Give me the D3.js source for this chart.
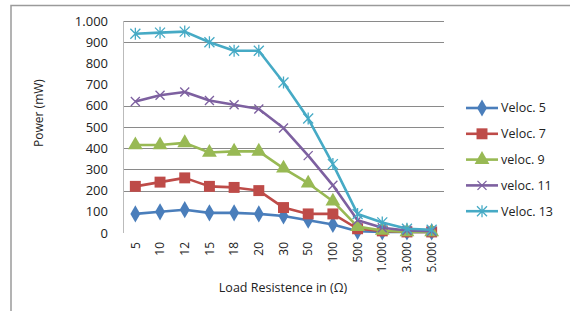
<!DOCTYPE html>
<html>
<head>
<meta charset="utf-8">
<script src="https://cdn.jsdelivr.net/npm/d3@7"></script>
<style>
  html, body { margin: 0; padding: 0; background: #fff; }
  svg { display: block; }
  text { font-family: "Open Sans", "Liberation Sans", Arial, sans-serif; fill: #222; }
</style>
</head>
<body>
<svg id="chart" width="570" height="311"></svg>
<script>
// categories (load resistance, Ω)
const loads = ["5", "10", "12", "15", "18", "20", "30", "50", "100", "500", "1.000", "3.000", "5.000"];

// power in mW
const veloc5  = [90, 100, 110, 95, 95, 90, 80, 60, 40, 8, 5, 5, 5];
const veloc7  = [220, 240, 260, 220, 215, 200, 120, 90, 90, 20, 10, 5, 5];
const veloc9  = [415, 415, 425, 380, 385, 385, 305, 235, 150, 30, 12, 5, 5];
const veloc11 = [620, 650, 665, 625, 605, 585, 495, 365, 225, 60, 25, 12, 8];
const veloc13 = [940, 945, 950, 900, 860, 860, 710, 540, 325, 90, 50, 20, 15];

const seriesNames = ["Veloc. 5", "Veloc. 7", "veloc. 9", "veloc. 11", "Veloc. 13"];
const yTicks = [0, 100, 200, 300, 400, 500, 600, 700, 800, 900, 1000];
// only these gridlines show in the picture
const gridValues = [200, 300, 400, 500, 600, 900, 1000];

const series = [
  { name: seriesNames[0], values: veloc5,  color: "#4A7EBB", symbol: d3.symbolDiamond, size: 85 },
  { name: seriesNames[1], values: veloc7,  color: "#BE4B48", symbol: d3.symbolSquare,  size: 120 },
  { name: seriesNames[2], values: veloc9,  color: "#98B954", symbol: d3.symbolTriangle, size: 95 },
  { name: seriesNames[3], values: veloc11, color: "#7D60A0", symbol: "x",    size: 4.5 },
  { name: seriesNames[4], values: veloc13, color: "#46AAC5", symbol: "star", size: 5 }
];

const svg = d3.select("#chart");

// outer chart border (only top and left edges fall inside the picture)
svg.append("rect").attr("x", 11).attr("y", 5.5).attr("width", 620).attr("height", 340)
  .attr("fill", "none").attr("stroke", "#9a9a9a").attr("stroke-width", 1.5);

const L = 123, R = 444, T = 21, B = 233;
const x = d3.scalePoint().domain(loads).range([L, R]).padding(0.5);
const y = d3.scaleLinear().domain([0, 1000]).range([B, T]);

// gridlines
svg.append("g").selectAll("line").data(gridValues).join("line")
  .attr("x1", L).attr("x2", R)
  .attr("y1", d => Math.round(y(d)) + 0.5).attr("y2", d => Math.round(y(d)) + 0.5)
  .attr("stroke", "#8a8a8a").attr("stroke-width", 1);

// y axis line
svg.append("line").attr("x1", L + 0.5).attr("x2", L + 0.5).attr("y1", T).attr("y2", B)
  .attr("stroke", "#bbb");

// y tick labels
svg.append("g").selectAll("text").data(yTicks).join("text")
  .attr("x", 108).attr("y", d => y(d)).attr("dy", "0.35em")
  .attr("text-anchor", "end").attr("font-size", 13)
  .text(d => d3.format(",")(d).replace(",", "."));

// x tick labels, rotated
svg.append("g").selectAll("text").data(loads).join("text")
  .attr("transform", d => `translate(${x(d)},242) rotate(-90)`)
  .attr("dy", "0.35em").attr("text-anchor", "end").attr("font-size", 12)
  .text(d => d);

// axis titles
svg.append("text").attr("transform", "translate(39,113) rotate(-90)")
  .attr("text-anchor", "middle").attr("dy", "0.35em").attr("font-size", 12).text("Power (mW)");
svg.append("text").attr("x", 283).attr("y", 288).attr("dy", "0.35em")
  .attr("text-anchor", "middle").attr("font-size", 12.5).text("Load Resistence in (Ω)");

function drawMarker(g, s, cx, cy) {
  const r = s.size;
  if (s.symbol === "x") {
    g.append("path").attr("d", `M${cx - r},${cy - r}L${cx + r},${cy + r}M${cx - r},${cy + r}L${cx + r},${cy - r}`)
      .attr("stroke", s.color).attr("stroke-width", 1.3).attr("fill", "none");
  } else if (s.symbol === "star") {
    g.append("path").attr("d", `M${cx - r},${cy - r}L${cx + r},${cy + r}M${cx - r},${cy + r}L${cx + r},${cy - r}M${cx},${cy - r - 1}L${cx},${cy + r + 1}`)
      .attr("stroke", s.color).attr("stroke-width", 1.3).attr("fill", "none");
  } else {
    g.append("path").attr("d", d3.symbol().type(s.symbol).size(s.size)())
      .attr("transform", `translate(${cx},${cy})`).attr("fill", s.color);
  }
}

const line = d3.line().x((d, i) => x(loads[i])).y(d => y(d));

series.forEach(s => {
  const g = svg.append("g");
  g.append("path").datum(s.values).attr("d", line)
    .attr("fill", "none").attr("stroke", s.color).attr("stroke-width", 2.6)
    .attr("stroke-linejoin", "round");
  s.values.forEach((v, i) => drawMarker(g, s, x(loads[i]), y(v)));
});

// legend
const leg = svg.append("g");
series.forEach((s, i) => {
  const ly = 108 + i * 25.8;
  const g = leg.append("g");
  g.append("line").attr("x1", 466).attr("x2", 498).attr("y1", ly).attr("y2", ly)
    .attr("stroke", s.color).attr("stroke-width", 2.6);
  drawMarker(g, s, 482, ly);
  g.append("text").attr("x", 501).attr("y", ly).attr("dy", "0.35em")
    .attr("font-size", 12.5).text(s.name);
});
</script>
</body>
</html>
